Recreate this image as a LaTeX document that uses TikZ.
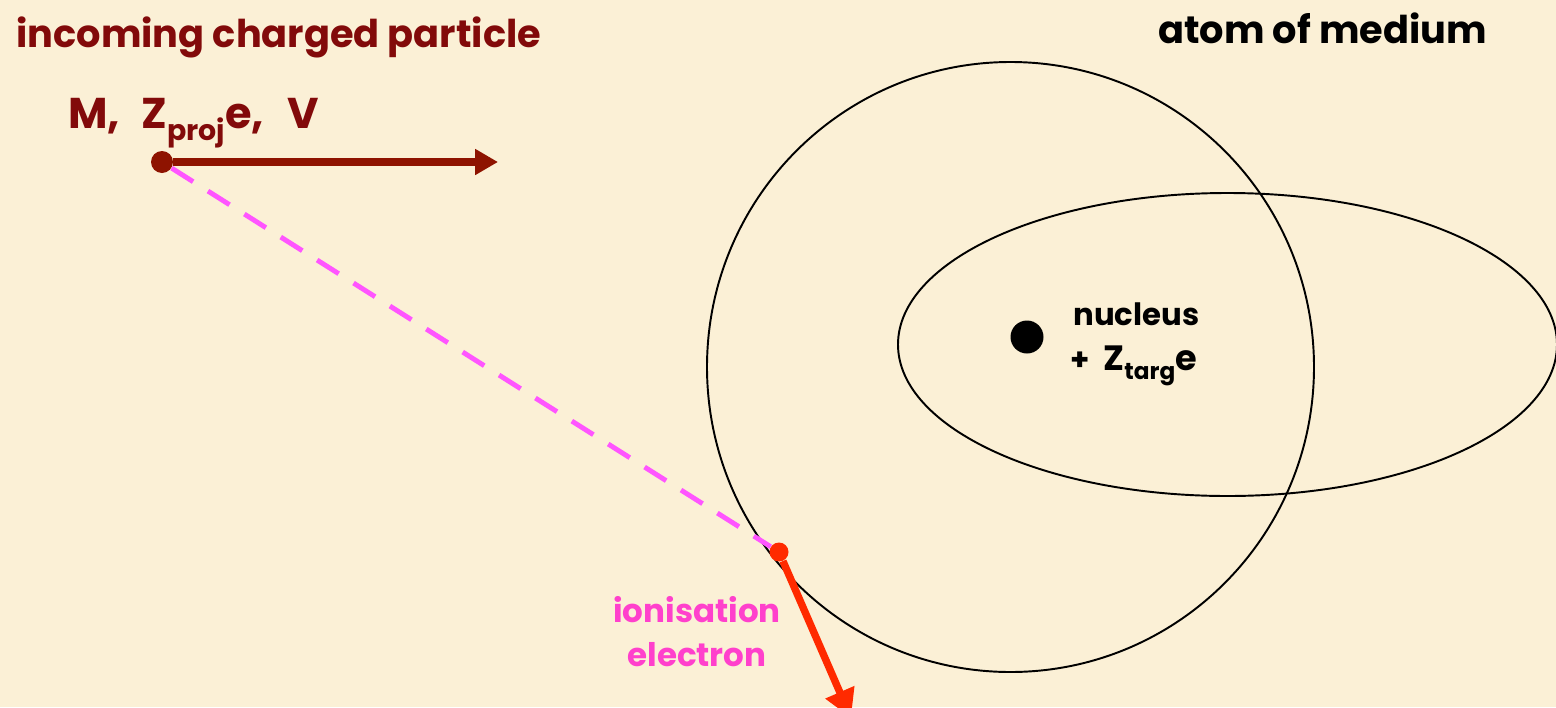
\documentclass[tikz,border=0pt]{standalone}
\usepackage{fontspec}
\setmainfont{Poppins}
\usetikzlibrary{arrows.meta}
\definecolor{bg}{HTML}{FBF0D6}
\definecolor{maroon}{HTML}{820A0A}
\definecolor{projred}{HTML}{8E1300}
\definecolor{dashmag}{HTML}{FF55FF}
\definecolor{txtmag}{HTML}{FF40CC}
\definecolor{elecred}{HTML}{FF2A00}
\newcommand{\mysub}[1]{\raisebox{-0.28em}{\fontsize{0.66em}{0.7em}\selectfont #1}}
\tikzset{
  big/.style={font=\fontsize{21.8pt}{26pt}\selectfont\bfseries, inner sep=0pt},
  bigger/.style={font=\fontsize{24.5pt}{28pt}\selectfont\bfseries, inner sep=0pt},
  small/.style={font=\fontsize{17.5pt}{20pt}\selectfont\bfseries, inner sep=0pt},
  label/.style={font=\fontsize{18.5pt}{25pt}\selectfont\bfseries, inner sep=0pt},
  orbit/.style={draw=black, line width=1.1pt},
  dot/.style={circle, inner sep=0pt},
  projarrow/.style={draw=projred, line width=4pt, -{Triangle[length=13pt,width=14pt]}},
  elecarrow/.style={draw=elecred, line width=4.2pt, -{Triangle[length=16pt,width=17pt]}},
  trail/.style={draw=dashmag, line width=2.8pt, dash pattern=on 14.5pt off 10pt},
}
\begin{document}
\begin{tikzpicture}[x=0.02cm,y=-0.02cm]
\useasboundingbox (0,0) rectangle (1556,707);
\clip (0,0) rectangle (1556,707);
\fill[bg] (0,0) rectangle (1556,707);
% orbits
\draw[orbit] (1010.5,367) ellipse [x radius=303.5, y radius=305];
\draw[orbit] (1227.5,344.5) ellipse [x radius=329.5, y radius=151.5];
% particles
\node[dot, fill=projred, minimum size=0.44cm] (proj) at (162,162) {};
\node[dot, fill=elecred, minimum size=0.38cm] (elec) at (779,552) {};
\node[dot, fill=black, minimum size=0.66cm] (nuc) at (1027,337) {};
\coordinate (projend) at (498,162);
\coordinate (elecend) at (851,718);
\draw[projarrow] (proj) -- (projend);
\draw[trail] (proj) -- (elec);
\draw[elecarrow] (elec) -- (elecend);
% texts
\node[big, text=maroon, anchor=base west] (title) at (16,47) {incoming charged particle};
\node[bigger, text=maroon, anchor=base west] (params) at (68,128) {M,\hspace{0.5em}Z\mysub{proj}e,\hspace{0.55em}V};
\node[big, text=black, anchor=base west] (atom) at (1158,43) {atom of medium};
\node[small, text=black, anchor=base west] (nucl) at (1073,325) {nucleus};
\node[small, text=black, anchor=base west] (charge) at (1070,370) {+\hspace{0.45em}{\fontsize{20pt}{22pt}\selectfont Z\mysub{targ}e}};
\node[label, text=txtmag, align=center, anchor=base] (ion) at (697,666) {ionisation\\electron};
\end{tikzpicture}
\end{document}
